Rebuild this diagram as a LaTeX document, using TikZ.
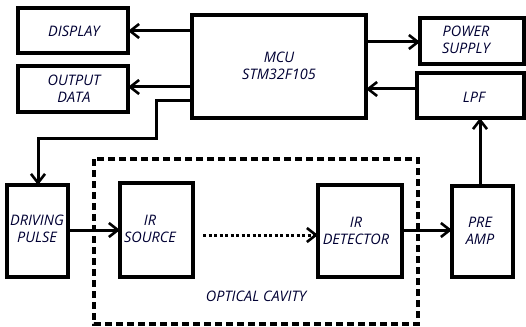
\documentclass[tikz,border=0pt]{standalone}
\usepackage{fontspec}
\setmainfont{Open Sans}
\usetikzlibrary{arrows.meta}
\begin{document}
\begin{tikzpicture}[x=1pt,y=-1pt,
  blk/.style={draw,line width=3.2pt},
  lbl/.style={font=\itshape\fontsize{14.5}{17}\selectfont,align=center,inner sep=0pt,text=black!80!blue},
  conn/.style={line width=3pt,-{Straight Barb[length=9pt,width=14pt,line width=2.6pt]}}]
\useasboundingbox (0,0) rectangle (526,326);
% blocks
\draw[blk] (18,8) rectangle (128,53);
\node[lbl] (disp) at (74,31) {DISPLAY};
\coordinate (dispE) at (128,31);
\draw[blk] (18,66) rectangle (128,112);
\node[lbl] (out) at (74,89) {OUTPUT\\DATA};
\coordinate (outE) at (128,87);
\draw[blk] (192,15) rectangle (366,118);
\node[lbl] (mcu) at (279,66) {MCU\\STM32F105};
\draw[blk] (420,18) rectangle (524,64);
\node[lbl] (pow) at (466,40) {POWER\\SUPPLY};
\draw[blk] (417,73) rectangle (524,118);
\node[lbl] (lpf) at (474,97) {LPF};
\draw[blk] (7,185) rectangle (68,277);
\node[lbl] (drv) at (37,229) {DRIVING\\PULSE};
\draw[blk] (120,183) rectangle (193,277);
\node[lbl] (src) at (150,229) {IR\\SOURCE};
\draw[blk] (318,185) rectangle (402,277);
\node[lbl] (det) at (356,231) {IR\\DETECTOR};
\draw[blk] (452,186) rectangle (513,277);
\node[lbl] (pre) at (480,231) {PRE\\AMP};
% optical cavity
\draw[line width=3.2pt,dash pattern=on 7pt off 4pt] (94,159) rectangle (418,324);
\node[lbl] (cav) at (256,296) {OPTICAL CAVITY};
% coordinates for connectors
\coordinate (mA) at (192,31);
\coordinate (mB) at (192,87);
\coordinate (mC) at (192,100);
\coordinate (mD) at (366,42);
\coordinate (mE) at (366,89);
\coordinate (powW) at (420,42);
\coordinate (lpfW) at (417,89);
\coordinate (lpfS) at (480,118);
\coordinate (preN) at (480,186);
\coordinate (drvN) at (38,185);
\coordinate (drvE) at (68,230);
\coordinate (srcW) at (120,230);
\coordinate (srcE) at (203,235);
\coordinate (detW) at (318,235);
\coordinate (detE) at (400,230);
\coordinate (preW) at (452,230);
% connectors
\draw[conn] (mA) -- (dispE);
\draw[conn] (mB) -- (outE);
\draw[conn] (mC) -- (156,100) -- (156,138) -- (38,138) -- (drvN);
\draw[conn] (mD) -- (powW);
\draw[conn] (lpfW) -- (mE);
\draw[conn] (preN) -- (lpfS);
\draw[conn] (drvE) -- (srcW);
\draw[conn,dash pattern=on 3pt off 2.5pt] (srcE) -- (detW);
\draw[conn] (detE) -- (preW);
\end{tikzpicture}
\end{document}
